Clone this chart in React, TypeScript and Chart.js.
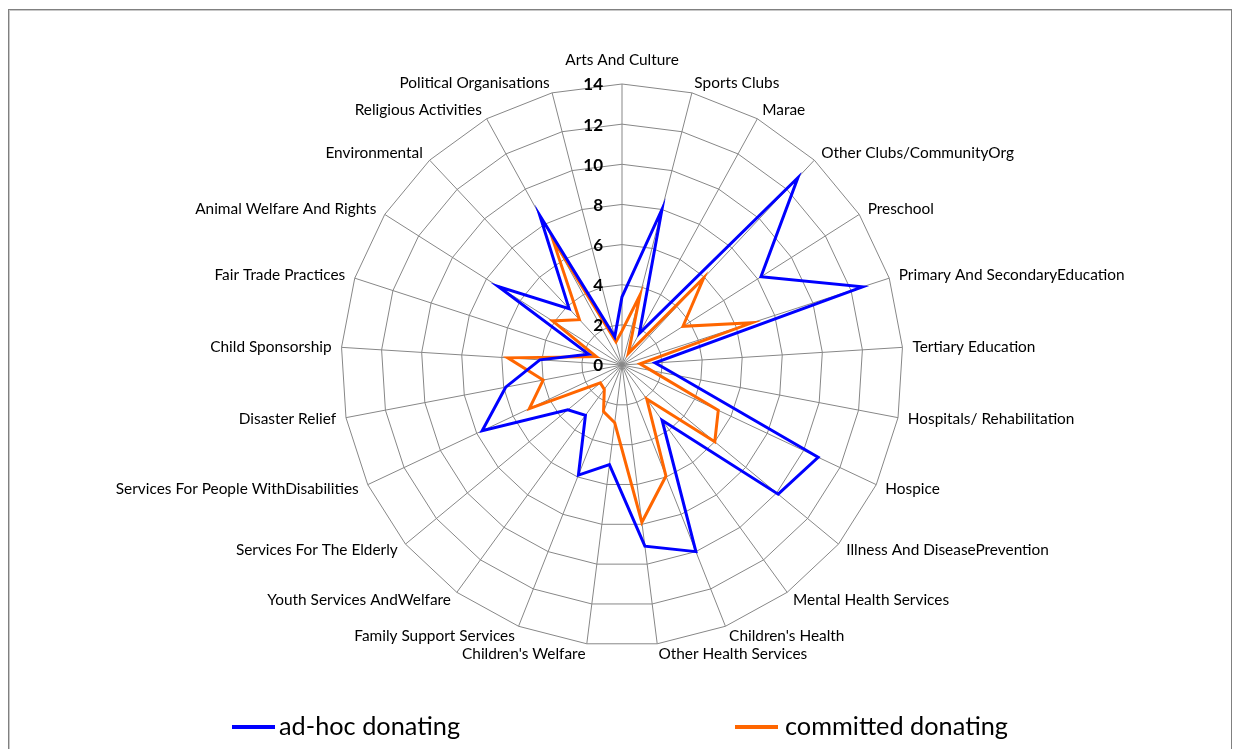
import React, { useEffect, useRef } from "react";
import { Chart, registerables } from "chart.js";

Chart.register(...registerables);

const categories = [
  "Arts And Culture",
  "Sports Clubs",
  "Marae",
  "Other Clubs/CommunityOrg",
  "Preschool",
  "Primary And SecondaryEducation",
  "Tertiary Education",
  "Hospitals/ Rehabilitation",
  "Hospice",
  "Illness And DiseasePrevention",
  "Mental Health Services",
  "Children's Health",
  "Other Health Services",
  "Children's Welfare",
  "Family Support Services",
  "Youth Services AndWelfare",
  "Services For The Elderly",
  "Services For People WithDisabilities",
  "Disaster Relief",
  "Child Sponsorship",
  "Fair Trade Practices",
  "Animal Welfare And Rights",
  "Environmental",
  "Religious Activities",
  "Political Organisations",
];

const adHocDonating = [
  3.4, 8.0, 1.8, 12.8, 8.2, 12.6, 1.65, 2.8, 10.8, 10.1, 3.4, 10.0, 9.1, 5.0,
  5.9, 3.1, 3.5, 7.7, 5.9, 4.1, 1.75, 7.3, 3.85, 8.5, 1.45,
];

const committedDonating = [
  1.7, 3.6, 0.66, 5.95, 3.6, 6.8, 0.9, 1.5, 5.3, 6.0, 2.1, 5.95, 7.9, 2.9, 2.5,
  1.5, 1.4, 5.1, 4.0, 5.7, 1.35, 4.1, 3.1, 7.2, 1.2,
];

const tickValues = [0, 2, 4, 6, 8, 10, 12, 14];
const seriesNames = ["ad-hoc donating", "committed donating"];
const seriesColors = ["#0000FF", "#FF6600"];

const FONT = "Lato, 'Open Sans', sans-serif";
const GRID = "#878787";

const excelLabels = {
  id: "excelLabels",
  afterDraw(chart: any) {
    const ctx = chart.ctx;
    const scale = chart.scales.r;
    const n = chart.data.labels.length;
    ctx.save();
    // category labels
    ctx.font = `15.4px ${FONT}`;
    ctx.fillStyle = "#000";
    ctx.textBaseline = "middle";
    chart.data.labels.forEach((lab: string, i: number) => {
      const deg = (360 / n) * i;
      const extra = deg === 0 ? 24 : 10;
      const p = scale.getPointPosition(i, scale.drawingArea + extra);
      ctx.textAlign = deg === 0 || deg === 180 ? "center" : deg < 180 ? "left" : "right";
      ctx.fillText(lab, p.x, p.y);
    });
    // tick labels
    ctx.font = `bold 17px ${FONT}`;
    ctx.textAlign = "right";
    tickValues.forEach((v) => {
      const d = scale.getDistanceFromCenterForValue(v);
      ctx.fillText(String(v), scale.xCenter - 19, scale.yCenter - d + 1);
    });
    // legend
    const legendY = 727;
    const lineStarts = [232, 735];
    const textStarts = [279, 785];
    ctx.font = `25.3px ${FONT}`;
    ctx.textAlign = "left";
    chart.data.datasets.forEach((ds: any, i: number) => {
      ctx.fillStyle = ds.borderColor;
      ctx.fillRect(lineStarts[i], legendY - 2, 43, 4);
      ctx.fillStyle = "#000";
      ctx.fillText(ds.label, textStarts[i], legendY);
    });
    ctx.restore();
  },
};

export default function App() {
  const canvasRef = useRef<HTMLCanvasElement | null>(null);

  useEffect(() => {
    if (!canvasRef.current) return;
    const chart = new Chart(canvasRef.current, {
      type: "radar",
      data: {
        labels: categories,
        datasets: [
          {
            label: seriesNames[0],
            data: adHocDonating,
            borderColor: seriesColors[0],
            backgroundColor: seriesColors[0],
            borderWidth: 3,
            pointRadius: 0,
            fill: false,
          },
          {
            label: seriesNames[1],
            data: committedDonating,
            borderColor: seriesColors[1],
            backgroundColor: seriesColors[1],
            borderWidth: 3,
            pointRadius: 0,
            fill: false,
          },
        ],
      },
      options: {
        responsive: false,
        animation: false,
        layout: { padding: { left: 341, right: 332, top: 84, bottom: 103 } },
        plugins: {
          legend: { display: false },
          tooltip: { enabled: false },
        },
        scales: {
          r: {
            min: 0,
            max: 14,
            ticks: { stepSize: 2, display: false },
            grid: { color: GRID, lineWidth: 1 },
            angleLines: { color: GRID, lineWidth: 1 },
            pointLabels: { display: false },
          },
        },
      },
      plugins: [excelLabels],
    });
    return () => chart.destroy();
  }, []);

  return (
    <div
      style={{
        position: "fixed",
        left: 0,
        top: 0,
        width: 1235,
        height: 749,
        overflow: "hidden",
        background: "#fff",
      }}
    >
      <div
        style={{
          position: "absolute",
          left: 8,
          top: 9,
          width: 1224,
          height: 780,
          boxSizing: "border-box",
          border: "1px solid #808080",
          boxShadow: "inset 1px 1px 0 #c8c8c8",
        }}
      />
      <canvas
        ref={canvasRef}
        width={1235}
        height={749}
        style={{ position: "absolute", left: 0, top: 0, display: "block" }}
      />
    </div>
  );
}
